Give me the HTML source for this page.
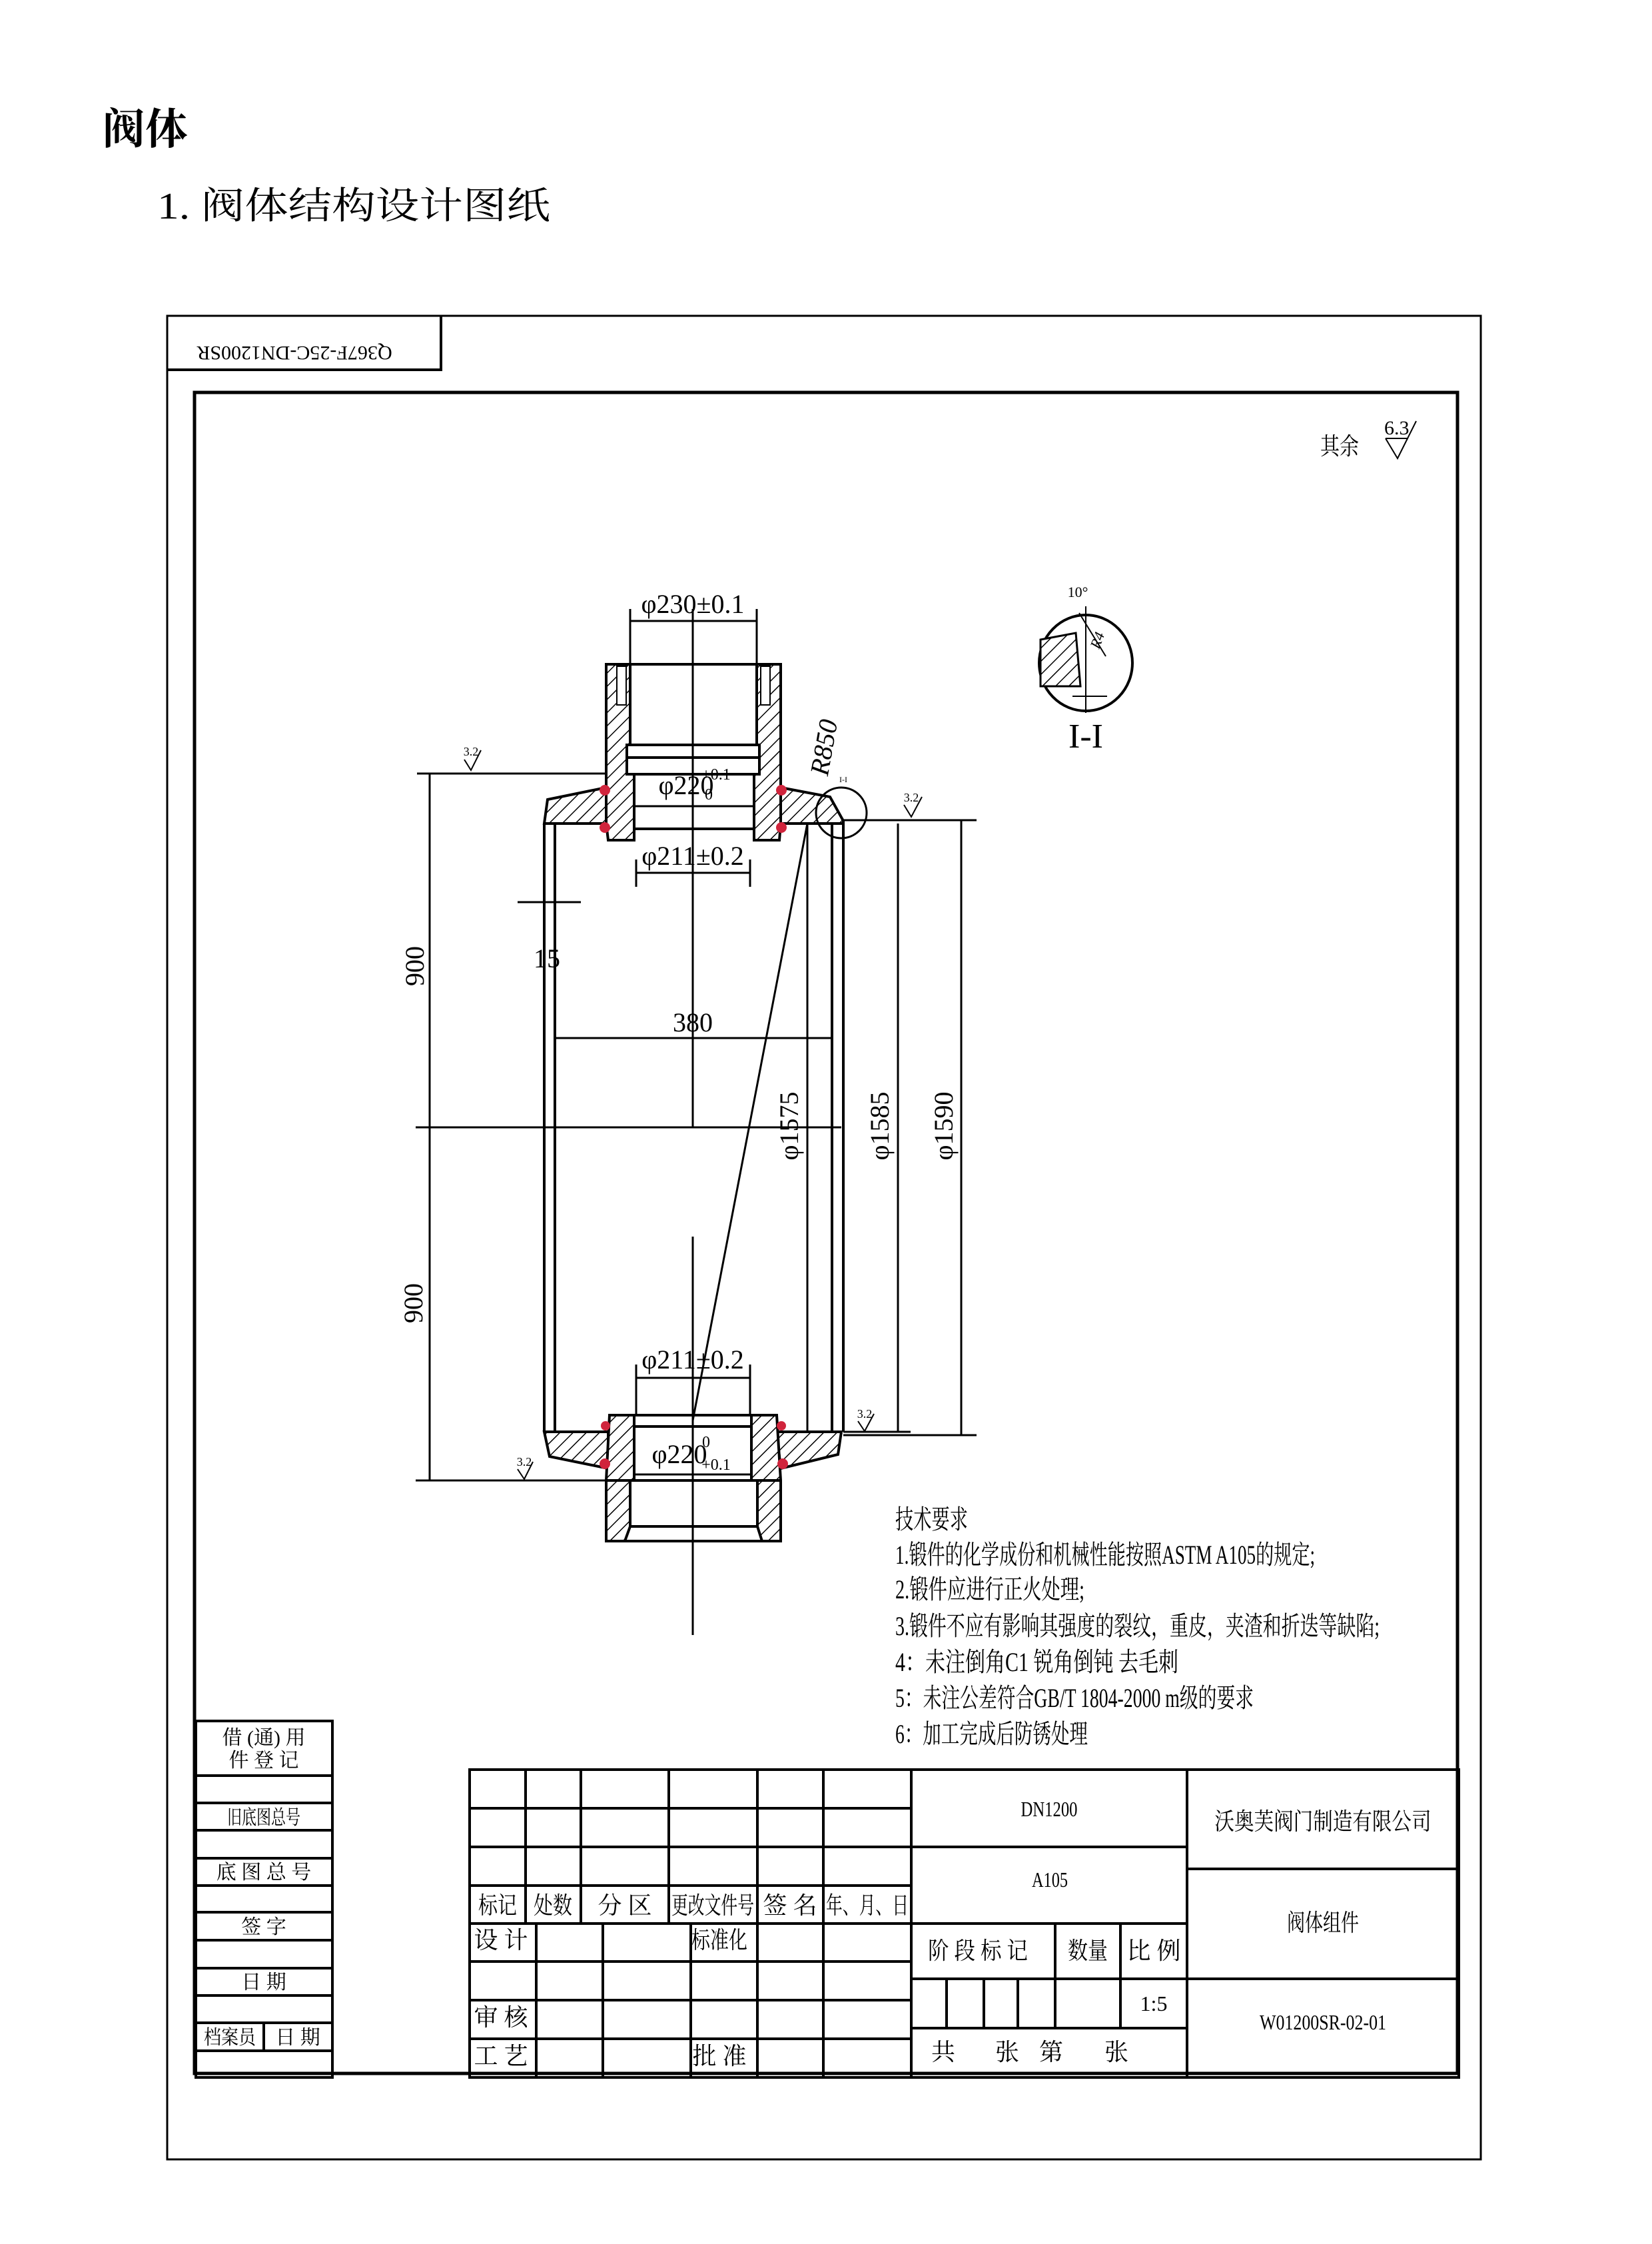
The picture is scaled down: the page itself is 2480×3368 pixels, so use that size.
<!DOCTYPE html>
<html><head><meta charset="utf-8"><style>
html,body{margin:0;padding:0;background:#fff;}
svg{display:block;}
text{font-family:"Liberation Serif","Noto Serif CJK SC","Noto Sans CJK SC",serif;fill:#000;}
</style></head><body>
<svg width="2480" height="3368" viewBox="0 0 2480 3368" xmlns="http://www.w3.org/2000/svg">
<defs>
<pattern id="h" patternUnits="userSpaceOnUse" width="14" height="14" patternTransform="rotate(45)">
<rect width="14" height="14" fill="#fff"/><line x1="0" y1="0" x2="0" y2="14" stroke="#000" stroke-width="3"/>
</pattern>
</defs>
<rect width="2480" height="3368" fill="#fff"/>
<!-- headings -->
<text x="154" y="216" font-size="64" font-weight="bold" font-family="'Liberation Sans','Noto Sans CJK SC',sans-serif">阀体</text>
<text x="236" y="328" font-size="56" textLength="590" lengthAdjust="spacingAndGlyphs">1.  阀体结构设计图纸</text>

<g stroke="#000" fill="none">
<rect x="251" y="474" width="1972" height="2767" stroke-width="3"/>
<polyline points="251,555 662,555 662,474" stroke-width="4"/>
<rect x="292" y="589" width="1896" height="2523" stroke-width="5"/>
</g>
<text transform="translate(442,520) scale(-1,-1)" font-size="30" text-anchor="middle">Q367F-25C-DN1200SR</text>

<!-- roughness 其余 -->
<text x="1982" y="682" font-size="36" textLength="58" lengthAdjust="spacingAndGlyphs">其余</text>
<text x="2078" y="652" font-size="30">6.3</text>
<polyline points="2080,658 2098,688 2126,632" fill="none" stroke="#000" stroke-width="2"/>
<line x1="2080" y1="658" x2="2114" y2="658" stroke="#000" stroke-width="2"/>

<!-- drawing -->
<g stroke="#000" stroke-width="4" fill="none">
<!-- top nozzle -->
<path d="M910,997 L946,997 L946,1118 L941,1118 L941,1162 L952,1162 L952,1261 L913,1261 L910,1236 Z" fill="url(#h)"/>
<path d="M1172,997 L1136,997 L1136,1118 L1140,1118 L1140,1162 L1132,1162 L1132,1261 L1170,1261 L1172,1236 Z" fill="url(#h)"/>
<line x1="910" y1="997" x2="1172" y2="997"/>
<line x1="941" y1="1118" x2="1140" y2="1118"/>
<line x1="941" y1="1137" x2="1140" y2="1137"/>
<line x1="946" y1="1162" x2="1136" y2="1162"/>
<line x1="952" y1="1244" x2="1132" y2="1244"/>
<rect x="926" y="1000" width="14" height="58" fill="#fff" stroke-width="2"/>
<rect x="1142" y="1000" width="14" height="58" fill="#fff" stroke-width="2"/>
<!-- top shell plate -->
<path d="M822,1200 L910,1182 L910,1236 L817,1236 Z" fill="url(#h)"/>
<path d="M1172,1182 L1246,1196 L1266,1232 L1266,1236 L1172,1236 Z" fill="url(#h)"/>
<!-- shell walls -->
<line x1="817" y1="1236" x2="817" y2="2149"/>
<line x1="833" y1="1236" x2="833" y2="2149"/>
<line x1="1249" y1="1236" x2="1249" y2="2149"/>
<line x1="1266" y1="1236" x2="1266" y2="2149"/>
<line x1="1212" y1="1236" x2="1212" y2="2149" stroke-width="3"/>
<!-- bottom shell plate -->
<path d="M817,2149 L913,2149 L913,2204 L825,2186 Z" fill="url(#h)"/>
<path d="M1166,2149 L1263,2149 L1258,2183 L1172,2204 Z" fill="url(#h)"/>
<!-- bottom nozzle -->
<path d="M915,2124 L952,2124 L952,2222 L946,2222 L946,2291 L938,2313 L910,2313 L910,2222 Z" fill="url(#h)"/>
<path d="M1166,2124 L1128,2124 L1128,2222 L1137,2222 L1137,2291 L1144,2313 L1172,2313 L1172,2222 Z" fill="url(#h)"/>
<line x1="915" y1="2124" x2="1166" y2="2124"/>
<line x1="952" y1="2141" x2="1128" y2="2141"/>
<line x1="910" y1="2222" x2="1172" y2="2222"/>
<line x1="946" y1="2291" x2="1137" y2="2291"/>
<line x1="910" y1="2313" x2="1172" y2="2313"/>
</g>
<!-- welds -->
<g fill="#d0243c">
<circle cx="908" cy="1186" r="8"/><circle cx="908" cy="1242" r="8"/>
<circle cx="1173" cy="1186" r="8"/><circle cx="1173" cy="1242" r="8"/>
<circle cx="909" cy="2140" r="7"/><circle cx="908" cy="2197" r="8"/>
<circle cx="1173" cy="2140" r="7"/><circle cx="1175" cy="2197" r="8"/>
</g>

<!-- centre lines / dims -->
<g stroke="#000" stroke-width="3" fill="none">
<line x1="1040" y1="914" x2="1040" y2="1692"/>
<line x1="1040" y1="1856" x2="1040" y2="2454"/>
<line x1="626" y1="1161" x2="910" y2="1161"/>
<line x1="624" y1="1692" x2="1263" y2="1692"/>
<line x1="624" y1="2222" x2="910" y2="2222"/>
<line x1="645" y1="1161" x2="645" y2="2222"/>
<line x1="1263" y1="1231" x2="1466" y2="1231"/>
<line x1="1266" y1="2149" x2="1367" y2="2149"/>
<line x1="1266" y1="2154" x2="1466" y2="2154"/>
<line x1="1348" y1="1236" x2="1348" y2="2149"/>
<line x1="1443" y1="1231" x2="1443" y2="2154"/>
<line x1="1212" y1="1236" x2="1040" y2="2132"/>
<circle cx="1263" cy="1220" r="38"/>
<!-- 15 -->
<line x1="777" y1="1354" x2="872" y2="1354"/>
<!-- 380 -->
<line x1="833" y1="1558" x2="1249" y2="1558"/>
<!-- phi230 -->
<line x1="946" y1="914" x2="946" y2="997"/>
<line x1="1136" y1="914" x2="1136" y2="997"/>
<line x1="946" y1="932" x2="1136" y2="932"/>
<line x1="952" y1="1210" x2="1132" y2="1210"/>
<line x1="955" y1="1290" x2="955" y2="1331"/>
<line x1="1126" y1="1290" x2="1126" y2="1331"/>
<line x1="955" y1="1310" x2="1126" y2="1310"/>
<line x1="955" y1="2048" x2="955" y2="2124"/>
<line x1="1126" y1="2048" x2="1126" y2="2124"/>
<line x1="955" y1="2068" x2="1126" y2="2068"/>
<line x1="952" y1="2213" x2="1128" y2="2213"/>
</g>
<g font-size="40" text-anchor="middle">
<text x="1040" y="920">φ230±0.1</text>
<text x="1030" y="1192">φ220</text><text x="1075" y="1170" font-size="24">+0.1</text><text x="1064" y="1200" font-size="24">0</text>
<text x="1040" y="1298">φ211±0.2</text>
<text x="821" y="1452">15</text>
<text x="1040" y="1548">380</text>
<text x="1040" y="2054">φ211±0.2</text>
<text x="1020" y="2196">φ220</text><text x="1060" y="2172" font-size="24">0</text><text x="1075" y="2206" font-size="24">+0.1</text>
<text transform="translate(636,1450) rotate(-90)">900</text>
<text transform="translate(634,1956) rotate(-90)">900</text>
<text transform="translate(1198,1690) rotate(-90)">φ1575</text>
<text transform="translate(1334,1690) rotate(-90)">φ1585</text>
<text transform="translate(1430,1690) rotate(-90)">φ1590</text>
<text transform="translate(1250,1124) rotate(-80)" font-style="italic">R850</text>
</g>
<g font-size="18" text-anchor="middle">
<text x="707" y="1134">3.2</text><text x="1368" y="1203">3.2</text>
<text x="787" y="2200">3.2</text><text x="1298" y="2128">3.2</text>
<text x="1266" y="1174" font-size="12">I-I</text>
</g>
<g stroke="#000" stroke-width="2" fill="none">
<polyline points="697,1140 707,1156 722,1126"/><polyline points="1357,1208 1368,1226 1384,1196"/>
<polyline points="777,2205 787,2220 800,2194"/><polyline points="1288,2133 1298,2148 1312,2122"/>
</g>

<!-- I-I detail -->
<g stroke="#000" stroke-width="4" fill="none">
<ellipse cx="1630" cy="995" rx="70" ry="72"/>
<path d="M1562,960 L1615,950 L1622,1030 L1562,1030 Z" fill="url(#h)" stroke-width="3"/>
<line x1="1630" y1="910" x2="1630" y2="1070" stroke-width="2"/>
<line x1="1610" y1="1045" x2="1662" y2="1045" stroke-width="2"/>
<line x1="1620" y1="920" x2="1660" y2="985" stroke-width="2"/>
</g>
<text x="1618" y="896" font-size="22" text-anchor="middle">10°</text>
<text transform="translate(1650,975) rotate(-70)" font-size="22" font-style="italic">R4</text>
<text x="1630" y="1122" font-size="52" text-anchor="middle">I-I</text>

<!-- tech requirements -->
<g font-size="40">
<text x="1344" y="2294" textLength="109" lengthAdjust="spacingAndGlyphs">技术要求</text>
<text x="1344" y="2347" textLength="630" lengthAdjust="spacingAndGlyphs">1.锻件的化学成份和机械性能按照ASTM A105的规定;</text>
<text x="1344" y="2399" textLength="284" lengthAdjust="spacingAndGlyphs">2.锻件应进行正火处理;</text>
<text x="1344" y="2454" textLength="727" lengthAdjust="spacingAndGlyphs">3.锻件不应有影响其强度的裂纹，重皮，夹渣和折迭等缺陷;</text>
<text x="1344" y="2508" textLength="425" lengthAdjust="spacingAndGlyphs">4：未注倒角C1   锐角倒钝   去毛刺</text>
<text x="1344" y="2562" textLength="538" lengthAdjust="spacingAndGlyphs">5：未注公差符合GB/T 1804-2000 m级的要求</text>
<text x="1344" y="2616" textLength="289" lengthAdjust="spacingAndGlyphs">6：加工完成后防锈处理</text>
</g>

<!-- left column -->
<g stroke="#000" stroke-width="4" fill="none">
<rect x="294" y="2583" width="205" height="535"/>
<line x1="294" y1="2665" x2="499" y2="2665"/><line x1="294" y1="2706" x2="499" y2="2706"/>
<line x1="294" y1="2747" x2="499" y2="2747"/><line x1="294" y1="2789" x2="499" y2="2789"/>
<line x1="294" y1="2830" x2="499" y2="2830"/><line x1="294" y1="2870" x2="499" y2="2870"/>
<line x1="294" y1="2912" x2="499" y2="2912"/><line x1="294" y1="2954" x2="499" y2="2954"/>
<line x1="294" y1="2995" x2="499" y2="2995"/><line x1="294" y1="3036" x2="499" y2="3036"/>
<line x1="294" y1="3078" x2="499" y2="3078"/><line x1="396" y1="3036" x2="396" y2="3078"/>
<!-- main table -->
<rect x="705" y="2656" width="1485" height="462"/>
<line x1="705" y1="2714" x2="1368" y2="2714"/><line x1="705" y1="2772" x2="1368" y2="2772"/>
<line x1="705" y1="2830" x2="1368" y2="2830"/><line x1="705" y1="2887" x2="1368" y2="2887"/>
<line x1="705" y1="2944" x2="1368" y2="2944"/><line x1="705" y1="3002" x2="1368" y2="3002"/>
<line x1="705" y1="3060" x2="1368" y2="3060"/>
<line x1="789" y1="2656" x2="789" y2="2887"/><line x1="872" y1="2656" x2="872" y2="2887"/>
<line x1="1004" y1="2656" x2="1004" y2="2887"/>
<line x1="805" y1="2887" x2="805" y2="3118"/><line x1="905" y1="2887" x2="905" y2="3118"/>
<line x1="1037" y1="2887" x2="1037" y2="3118"/>
<line x1="1137" y1="2656" x2="1137" y2="3118"/><line x1="1236" y1="2656" x2="1236" y2="3118"/>
<line x1="1368" y1="2656" x2="1368" y2="3118"/><line x1="1782" y1="2656" x2="1782" y2="3118"/>
<line x1="1368" y1="2772" x2="1782" y2="2772"/><line x1="1368" y1="2887" x2="1782" y2="2887"/>
<line x1="1368" y1="2970" x2="2190" y2="2970"/><line x1="1368" y1="3044" x2="1782" y2="3044"/>
<line x1="1782" y1="2805" x2="2190" y2="2805"/>
<line x1="1584" y1="2887" x2="1584" y2="3044"/><line x1="1682" y1="2887" x2="1682" y2="3044"/>
<line x1="1421" y1="2970" x2="1421" y2="3044"/><line x1="1477" y1="2970" x2="1477" y2="3044"/>
<line x1="1528" y1="2970" x2="1528" y2="3044"/>
</g>
<g font-size="30" text-anchor="middle">
<text x="396" y="2618">借 (通) 用</text><text x="396" y="2652">件  登  记</text>
<text x="396" y="2738" textLength="110" lengthAdjust="spacingAndGlyphs">旧底图总号</text>
<text x="396" y="2820">底 图 总 号</text>
<text x="396" y="2902">签    字</text>
<text x="396" y="2985">日    期</text>
<text x="345" y="3068" textLength="78" lengthAdjust="spacingAndGlyphs">档案员</text><text x="447" y="3068">日 期</text>
</g>
<g font-size="36" text-anchor="middle">
<text x="747" y="2872" textLength="58" lengthAdjust="spacingAndGlyphs">标记</text>
<text x="830" y="2872" textLength="58" lengthAdjust="spacingAndGlyphs">处数</text>
<text x="938" y="2872">分 区</text>
<text x="1070" y="2872" textLength="124" lengthAdjust="spacingAndGlyphs">更改文件号</text>
<text x="1186" y="2872">签 名</text>
<text x="1302" y="2872" textLength="124" lengthAdjust="spacingAndGlyphs">年、月、日</text>
<text x="752" y="2924">设 计</text>
<text x="1080" y="2924" textLength="84" lengthAdjust="spacingAndGlyphs">标准化</text>
<text x="752" y="3040">审 核</text>
<text x="752" y="3098">工 艺</text>
<text x="1080" y="3098">批 准</text>
<text x="1468" y="2940" textLength="150" lengthAdjust="spacingAndGlyphs">阶 段 标 记</text>
<text x="1633" y="2940" textLength="60" lengthAdjust="spacingAndGlyphs">数量</text>
<text x="1732" y="2940">比 例</text>
<text x="1732" y="3018" font-size="32">1:5</text>
<text x="1416" y="3092">共</text><text x="1512" y="3092">张</text><text x="1578" y="3092">第</text><text x="1676" y="3092">张</text>
<text x="1575" y="2726" font-size="32" textLength="85" lengthAdjust="spacingAndGlyphs">DN1200</text>
<text x="1576" y="2832" font-size="32" textLength="54" lengthAdjust="spacingAndGlyphs">A105</text>
<text x="1986" y="2746" textLength="325" lengthAdjust="spacingAndGlyphs">沃奥芙阀门制造有限公司</text>
<text x="1986" y="2898" textLength="108" lengthAdjust="spacingAndGlyphs">阀体组件</text>
<text x="1986" y="3046" font-size="32" textLength="190" lengthAdjust="spacingAndGlyphs">W01200SR-02-01</text>
</g>
</svg>
</body></html>
